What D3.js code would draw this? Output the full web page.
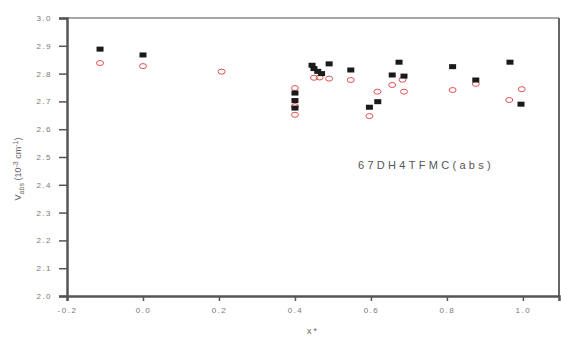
<!DOCTYPE html>
<html lang="en">
  <head>
    <script src="https://d3js.org/d3.v7.min.js"></script>
    <style>
      body { margin: 0; background: #fff; }
      text { font-family: "Liberation Sans", Arial, sans-serif; fill: #666; }
    </style>
  </head>
  <body>
    <svg width="561" height="339"></svg>
    <script>
      // black filled squares: [x*, V]
      var squareX = [-0.113, 0.0, 0.40, 0.40, 0.40, 0.445, 0.45, 0.46, 0.47, 0.49, 0.547, 0.596, 0.618, 0.656, 0.674, 0.687, 0.815, 0.876, 0.966, 0.995];
      var squareY = [2.888, 2.867, 2.730, 2.703, 2.676, 2.830, 2.818, 2.808, 2.800, 2.835, 2.813, 2.679, 2.699, 2.795, 2.841, 2.791, 2.825, 2.777, 2.841, 2.690];
      // red open circles: [x*, V]
      var circleX = [-0.113, 0.0, 0.207, 0.40, 0.40, 0.40, 0.45, 0.465, 0.49, 0.547, 0.596, 0.617, 0.656, 0.683, 0.687, 0.815, 0.876, 0.964, 0.997];
      var circleY = [2.838, 2.827, 2.807, 2.748, 2.683, 2.652, 2.785, 2.786, 2.782, 2.777, 2.647, 2.735, 2.759, 2.778, 2.735, 2.741, 2.763, 2.705, 2.744];
      var xTicks = [-0.2, 0.0, 0.2, 0.4, 0.6, 0.8, 1.0];
      var yTicks = [2.0, 2.1, 2.2, 2.3, 2.4, 2.5, 2.6, 2.7, 2.8, 2.9, 3.0];

      var svg = d3.select("svg");
      var plotLeft = 67, plotRight = 559, plotTop = 18, plotBottom = 296;

      var xScale = d3.scaleLinear().domain([-0.2, 1.095]).range([plotLeft, plotRight]);
      var yScale = d3.scaleLinear().domain([2.0, 3.0]).range([plotBottom, plotTop]);

      // plain hyphen for negatives
      var fmt = function (d) { return d.toFixed(1); };

      // frame (top and right)
      svg.append("line")
        .attr("x1", plotLeft).attr("x2", plotRight).attr("y1", plotTop).attr("y2", plotTop)
        .style("stroke", "#8a8a8a").style("stroke-width", 1.5);
      svg.append("line")
        .attr("x1", plotRight).attr("x2", plotRight).attr("y1", plotTop).attr("y2", plotBottom)
        .style("stroke", "#666").style("stroke-width", 2);

      // axes
      var xAxis = svg.append("g")
        .attr("transform", "translate(0," + plotBottom + ")")
        .call(d3.axisBottom(xScale).tickValues(xTicks).tickSize(5).tickPadding(6)
          .tickFormat(fmt));
      var yAxis = svg.append("g")
        .attr("transform", "translate(" + plotLeft + ",0)")
        .call(d3.axisLeft(yScale).tickValues(yTicks).tickSize(8).tickPadding(7)
          .tickFormat(fmt));

      [xAxis, yAxis].forEach(function (a) {
        a.select(".domain").style("stroke", "#555").style("stroke-width", 2.5);
        a.selectAll(".tick line").style("stroke", "#555").style("stroke-width", 1.5);
        a.selectAll(".tick text")
          .style("font-size", "8px")
          .style("letter-spacing", "1.5px")
          .style("fill", "#777");
      });

      // red open circles
      svg.append("g")
        .selectAll("ellipse")
        .data(d3.zip(circleX, circleY))
        .enter()
        .append("ellipse")
        .attr("cx", function (d) { return xScale(d[0]); })
        .attr("cy", function (d) { return yScale(d[1]); })
        .attr("rx", 3.5)
        .attr("ry", 2.5)
        .style("fill", "none")
        .style("stroke", "#e05050")
        .style("stroke-width", 1);

      // black squares
      svg.append("g")
        .selectAll("rect")
        .data(d3.zip(squareX, squareY))
        .enter()
        .append("rect")
        .attr("x", function (d) { return xScale(d[0]) - 3.5; })
        .attr("y", function (d) { return yScale(d[1]) - 2.5; })
        .attr("width", 7)
        .attr("height", 5)
        .style("fill", "#1a1a1a");

      // sample label
      svg.append("text")
        .attr("x", 358)
        .attr("y", 169)
        .style("font-size", "11px")
        .style("letter-spacing", "3.3px")
        .style("fill", "#555")
        .text("67DH4TFMC(abs)");

      // axis titles
      svg.append("text")
        .attr("x", 313)
        .attr("y", 334)
        .attr("text-anchor", "middle")
        .style("font-size", "9px")
        .style("letter-spacing", "2px")
        .text("x*");

      var yl = svg.append("text")
        .attr("text-anchor", "middle")
        .attr("transform", "translate(21,169)rotate(-90)")
        .style("font-size", "9px")
        .style("fill", "#666");
      yl.append("tspan").text("V");
      yl.append("tspan").attr("dy", 3).style("font-size", "7px").text("abs");
      yl.append("tspan").attr("dy", -3).text(" (10");
      yl.append("tspan").attr("dy", -3).style("font-size", "7px").text("-3");
      yl.append("tspan").attr("dy", 3).text(" cm");
      yl.append("tspan").attr("dy", -3).style("font-size", "7px").text("-1");
      yl.append("tspan").attr("dy", 3).text(")");
    </script>
  </body>
</html>
